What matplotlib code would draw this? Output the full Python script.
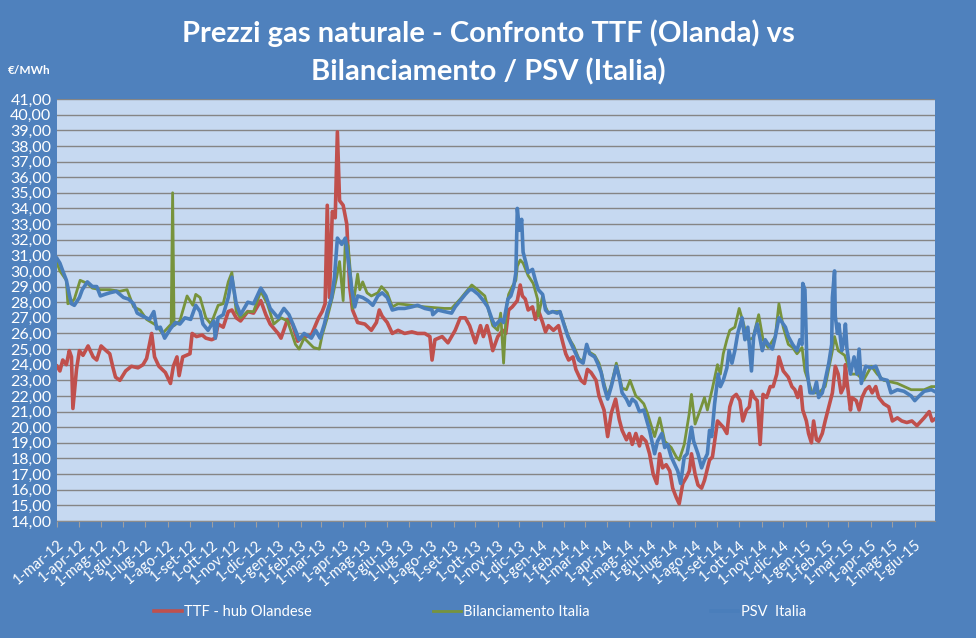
import matplotlib
matplotlib.use("Agg")
import matplotlib.pyplot as plt
import pandas as pd

plt.rcParams['font.family'] = ['Lato', 'DejaVu Sans']

# TTF - hub Olandese (EUR/MWh)
ttf = [("2012-03-01",23.9),("2012-03-05",23.6),("2012-03-09",24.3),("2012-03-14",24.0),("2012-03-18",24.9),("2012-03-21",24.5),("2012-03-23",21.2),("2012-03-28",23.7),("2012-04-01",24.9),("2012-04-06",24.6),("2012-04-13",25.2),("2012-04-20",24.5),("2012-04-25",24.3),("2012-05-01",25.2),("2012-05-08",24.9),("2012-05-13",24.7),("2012-05-17",23.9),("2012-05-21",23.2),("2012-05-27",23.0),("2012-06-04",23.6),("2012-06-12",23.9),("2012-06-21",23.8),("2012-06-28",24.0),("2012-07-03",24.4),("2012-07-10",26.0),("2012-07-14",24.5),("2012-07-20",23.9),("2012-07-29",23.5),("2012-08-05",22.8),("2012-08-09",23.9),("2012-08-14",24.5),("2012-08-17",23.3),("2012-08-22",24.5),("2012-09-01",24.7),("2012-09-04",26.0),("2012-09-10",25.8),("2012-09-18",25.9),("2012-09-23",25.7),("2012-10-01",25.6),("2012-10-06",25.7),("2012-10-10",26.6),("2012-10-17",26.4),("2012-10-24",27.4),("2012-10-29",27.5),("2012-11-04",27.0),("2012-11-10",26.8),("2012-11-20",27.4),("2012-11-28",27.3),("2012-12-08",28.1),("2012-12-15",27.2),("2012-12-21",26.6),("2013-01-01",26.0),("2013-01-05",25.7),("2013-01-14",26.9),("2013-01-21",26.6),("2013-01-28",25.5),("2013-02-02",25.7),("2013-02-16",25.9),("2013-02-26",27.0),("2013-03-03",27.4),("2013-03-07",27.9),("2013-03-10",34.2),("2013-03-13",28.3),("2013-03-17",33.8),("2013-03-21",33.4),("2013-03-24",38.9),("2013-03-27",34.5),("2013-04-01",34.2),("2013-04-06",33.0),("2013-04-10",29.0),("2013-04-14",27.5),("2013-04-21",26.7),("2013-05-01",26.6),("2013-05-10",26.2),("2013-05-17",26.7),("2013-05-21",27.5),("2013-05-25",27.1),("2013-06-01",26.7),("2013-06-08",26.0),("2013-06-16",26.2),("2013-06-25",26.0),("2013-07-05",26.1),("2013-07-13",26.0),("2013-07-23",26.0),("2013-07-30",25.8),("2013-08-02",24.3),("2013-08-06",25.6),("2013-08-16",25.8),("2013-08-24",25.4),("2013-09-03",26.2),("2013-09-10",27.0),("2013-09-17",27.0),("2013-09-23",26.5),("2013-10-01",25.4),("2013-10-08",26.5),("2013-10-12",25.8),("2013-10-17",26.5),("2013-10-21",25.8),("2013-10-25",24.9),("2013-11-01",25.8),("2013-11-08",26.2),("2013-11-12",26.0),("2013-11-16",27.5),("2013-11-21",27.7),("2013-11-28",28.1),("2013-12-02",29.1),("2013-12-05",28.4),("2013-12-09",28.2),("2013-12-13",27.5),("2013-12-19",27.7),("2013-12-23",26.9),("2013-12-27",27.5),("2014-01-02",26.7),("2014-01-06",26.1),("2014-01-10",26.5),("2014-01-17",26.2),("2014-01-24",26.5),("2014-01-30",25.4),("2014-02-03",24.7),("2014-02-07",24.3),("2014-02-13",24.5),("2014-02-17",23.7),("2014-02-24",23.0),("2014-03-01",22.8),("2014-03-05",23.7),("2014-03-10",23.5),("2014-03-17",23.0),("2014-03-21",22.0),("2014-03-28",21.1),("2014-04-02",19.4),("2014-04-07",20.9),("2014-04-13",21.8),("2014-04-18",20.5),("2014-04-22",19.8),("2014-04-28",19.2),("2014-05-02",19.6),("2014-05-06",18.9),("2014-05-11",19.6),("2014-05-16",18.8),("2014-05-19",19.4),("2014-05-25",19.1),("2014-05-30",18.3),("2014-06-04",17.0),("2014-06-09",16.4),("2014-06-13",18.3),("2014-06-17",17.4),("2014-06-22",17.6),("2014-06-27",17.2),("2014-07-01",16.1),("2014-07-06",15.5),("2014-07-10",15.1),("2014-07-15",16.4),("2014-07-20",16.8),("2014-07-24",17.2),("2014-07-27",18.3),("2014-08-01",17.0),("2014-08-05",16.3),("2014-08-10",16.1),("2014-08-14",16.6),("2014-08-21",17.9),("2014-08-25",18.1),("2014-09-01",20.4),("2014-09-05",20.2),("2014-09-09",20.0),("2014-09-14",19.6),("2014-09-18",21.3),("2014-09-22",21.9),("2014-09-27",22.1),("2014-10-02",21.7),("2014-10-06",20.4),("2014-10-11",21.1),("2014-10-15",21.3),("2014-10-18",22.3),("2014-10-22",21.9),("2014-10-26",21.7),("2014-10-30",18.9),("2014-11-03",22.1),("2014-11-08",21.9),("2014-11-13",22.6),("2014-11-17",22.6),("2014-11-22",23.4),("2014-11-25",24.5),("2014-12-01",23.6),("2014-12-08",23.2),("2014-12-13",22.6),("2014-12-17",22.4),("2014-12-21",21.9),("2014-12-25",22.6),("2014-12-28",21.1),("2015-01-02",20.4),("2015-01-05",19.6),("2015-01-09",19.0),("2015-01-12",20.4),("2015-01-16",19.2),("2015-01-19",19.1),("2015-01-24",19.6),("2015-01-28",20.4),("2015-02-02",21.3),("2015-02-07",22.2),("2015-02-11",23.9),("2015-02-15",23.4),("2015-02-19",22.2),("2015-02-23",22.6),("2015-02-25",24.0),("2015-02-27",23.0),("2015-03-04",21.1),("2015-03-06",21.9),("2015-03-12",21.7),("2015-03-16",21.1),("2015-03-20",21.9),("2015-03-25",22.4),("2015-03-30",22.6),("2015-04-03",22.2),("2015-04-08",22.6),("2015-04-12",21.9),("2015-04-19",21.5),("2015-04-26",21.3),("2015-05-01",20.4),("2015-05-08",20.6),("2015-05-14",20.4),("2015-05-21",20.3),("2015-05-28",20.4),("2015-06-04",20.1),("2015-06-10",20.4),("2015-06-14",20.6),("2015-06-21",21.0),("2015-06-25",20.4),("2015-06-28",20.5)]

# Bilanciamento Italia
bil = [("2012-03-01",30.5),("2012-03-05",30.0),("2012-03-14",29.4),("2012-03-16",27.9),("2012-03-21",28.0),("2012-03-25",28.2),("2012-04-02",29.4),("2012-04-12",29.2),("2012-04-19",28.9),("2012-04-30",28.8),("2012-05-13",28.8),("2012-05-27",28.7),("2012-06-06",28.8),("2012-06-15",27.7),("2012-06-24",27.5),("2012-07-03",26.9),("2012-07-10",26.7),("2012-07-17",26.5),("2012-07-25",26.0),("2012-08-02",26.4),("2012-08-06",26.6),("2012-08-08",35.0),("2012-08-10",26.5),("2012-08-18",26.8),("2012-08-28",28.4),("2012-09-05",27.8),("2012-09-09",28.5),("2012-09-15",28.3),("2012-09-23",27.0),("2012-09-30",26.6),("2012-10-10",27.8),("2012-10-17",27.9),("2012-10-24",29.3),("2012-10-29",29.9),("2012-11-04",27.4),("2012-11-10",27.0),("2012-11-20",27.4),("2012-11-28",27.4),("2012-12-08",28.7),("2012-12-17",27.9),("2012-12-26",26.6),("2013-01-05",27.0),("2013-01-14",26.8),("2013-01-25",25.3),("2013-01-30",25.0),("2013-02-06",25.7),("2013-02-19",25.1),("2013-02-27",25.0),("2013-03-03",25.9),("2013-03-10",27.0),("2013-03-17",28.3),("2013-03-23",29.6),("2013-03-27",30.6),("2013-04-01",28.1),("2013-04-04",32.0),("2013-04-08",31.6),("2013-04-13",28.8),("2013-04-14",27.6),("2013-04-21",29.8),("2013-04-24",28.8),("2013-04-28",29.3),("2013-05-04",28.6),("2013-05-10",28.4),("2013-05-19",28.6),("2013-05-24",29.0),("2013-06-01",28.6),("2013-06-08",27.7),("2013-06-16",27.9),("2013-07-05",27.8),("2013-07-23",27.7),("2013-08-19",27.6),("2013-08-29",27.6),("2013-09-10",28.2),("2013-09-17",28.6),("2013-09-26",29.1),("2013-10-04",28.8),("2013-10-14",28.4),("2013-10-18",27.7),("2013-10-25",26.5),("2013-11-01",26.2),("2013-11-05",27.3),("2013-11-09",24.1),("2013-11-13",27.7),("2013-11-16",28.5),("2013-11-21",29.0),("2013-11-26",29.4),("2013-11-28",30.3),("2013-12-02",30.7),("2013-12-06",30.5),("2013-12-13",29.7),("2013-12-20",29.2),("2013-12-26",28.2),("2013-12-27",27.1),("2014-01-02",28.4),("2014-01-06",27.7),("2014-01-10",27.3),("2014-01-16",27.4),("2014-01-26",27.4),("2014-02-01",26.6),("2014-02-06",25.9),("2014-02-10",25.5),("2014-02-14",25.2),("2014-02-21",24.4),("2014-02-27",24.2),("2014-03-04",25.2),("2014-03-08",24.8),("2014-03-15",24.6),("2014-03-21",24.1),("2014-03-24",23.6),("2014-03-28",22.8),("2014-04-02",22.0),("2014-04-07",22.7),("2014-04-14",24.1),("2014-04-18",23.3),("2014-04-22",22.5),("2014-04-28",22.4),("2014-05-03",23.0),("2014-05-11",22.0),("2014-05-16",21.8),("2014-05-22",21.5),("2014-05-27",20.9),("2014-06-06",19.4),("2014-06-13",20.6),("2014-06-20",19.1),("2014-06-29",18.7),("2014-07-06",18.1),("2014-07-10",17.9),("2014-07-17",18.9),("2014-07-24",20.9),("2014-07-27",22.1),("2014-08-01",20.2),("2014-08-08",21.1),("2014-08-14",21.9),("2014-08-18",21.1),("2014-08-25",22.5),("2014-09-01",24.0),("2014-09-05",23.4),("2014-09-09",24.7),("2014-09-14",25.6),("2014-09-18",26.2),("2014-09-25",26.4),("2014-10-01",27.6),("2014-10-06",26.8),("2014-10-13",25.6),("2014-10-20",25.7),("2014-10-28",27.2),("2014-11-03",25.6),("2014-11-10",25.1),("2014-11-20",25.8),("2014-11-25",27.9),("2014-12-01",26.4),("2014-12-08",25.3),("2014-12-14",25.1),("2014-12-20",24.7),("2014-12-27",25.1),("2014-12-31",23.6),("2015-01-10",22.2),("2015-01-19",22.2),("2015-01-28",22.6),("2015-02-07",24.9),("2015-02-10",25.8),("2015-02-15",24.9),("2015-02-24",24.6),("2015-03-05",23.4),("2015-03-13",23.4),("2015-03-22",23.0),("2015-04-02",23.9),("2015-04-10",23.4),("2015-04-19",23.0),("2015-05-08",22.8),("2015-05-27",22.4),("2015-06-14",22.4),("2015-06-24",22.6),("2015-06-28",22.6)]

# PSV Italia
psv = [("2012-03-01",30.8),("2012-03-05",30.5),("2012-03-09",30.0),("2012-03-14",29.4),("2012-03-18",28.5),("2012-03-21",27.9),("2012-03-25",27.8),("2012-04-01",28.3),("2012-04-05",28.8),("2012-04-12",29.3),("2012-04-19",29.0),("2012-04-25",29.0),("2012-04-30",28.4),("2012-05-06",28.5),("2012-05-13",28.6),("2012-05-22",28.7),("2012-06-01",28.3),("2012-06-08",28.2),("2012-06-15",27.9),("2012-06-20",27.3),("2012-06-28",27.1),("2012-07-07",26.9),("2012-07-13",27.4),("2012-07-17",26.3),("2012-07-22",26.4),("2012-07-28",25.7),("2012-08-05",26.3),("2012-08-12",26.7),("2012-08-18",26.6),("2012-08-25",27.0),("2012-09-02",26.9),("2012-09-09",27.8),("2012-09-15",27.4),("2012-09-19",26.6),("2012-09-26",26.2),("2012-10-04",26.8),("2012-10-06",25.7),("2012-10-10",27.0),("2012-10-17",27.2),("2012-10-24",28.3),("2012-10-29",29.6),("2012-11-04",27.9),("2012-11-10",27.2),("2012-11-20",28.0),("2012-11-28",27.9),("2012-12-08",28.9),("2012-12-15",28.4),("2012-12-21",27.6),("2013-01-01",27.0),("2013-01-09",27.6),("2013-01-16",27.2),("2013-01-25",26.2),("2013-01-30",25.6),("2013-02-06",26.0),("2013-02-16",25.7),("2013-02-22",26.2),("2013-02-28",25.7),("2013-03-06",26.6),("2013-03-10",27.4),("2013-03-16",28.3),("2013-03-20",29.6),("2013-03-24",32.1),("2013-03-30",31.7),("2013-04-04",32.1),("2013-04-08",30.7),("2013-04-13",28.8),("2013-04-17",27.7),("2013-04-21",28.4),("2013-04-28",28.3),("2013-05-05",28.1),("2013-05-12",27.8),("2013-05-19",28.4),("2013-05-25",28.6),("2013-06-01",28.3),("2013-06-08",27.5),("2013-06-16",27.6),("2013-06-25",27.6),("2013-07-05",27.7),("2013-07-13",27.8),("2013-07-23",27.6),("2013-08-02",27.5),("2013-08-03",27.2),("2013-08-10",27.5),("2013-08-19",27.4),("2013-08-29",27.3),("2013-09-03",27.7),("2013-09-10",28.1),("2013-09-17",28.5),("2013-09-23",28.8),("2013-09-27",28.8),("2013-10-05",28.5),("2013-10-12",28.1),("2013-10-18",27.7),("2013-10-24",26.9),("2013-10-28",26.5),("2013-11-01",26.7),("2013-11-05",26.9),("2013-11-09",26.7),("2013-11-15",28.2),("2013-11-19",28.4),("2013-11-23",29.0),("2013-11-26",29.9),("2013-11-28",34.0),("2013-12-01",32.6),("2013-12-04",33.3),("2013-12-06",31.2),("2013-12-10",30.5),("2013-12-13",29.9),("2013-12-19",30.1),("2013-12-23",29.4),("2013-12-27",28.8),("2014-01-02",28.5),("2014-01-06",27.5),("2014-01-10",27.3),("2014-01-16",27.4),("2014-01-22",27.3),("2014-01-26",27.4),("2014-02-01",26.5),("2014-02-06",25.8),("2014-02-10",25.4),("2014-02-14",25.0),("2014-02-21",24.3),("2014-02-27",24.1),("2014-03-04",25.3),("2014-03-08",24.7),("2014-03-15",24.5),("2014-03-19",24.1),("2014-03-24",23.5),("2014-03-28",22.6),("2014-04-02",21.8),("2014-04-07",22.6),("2014-04-14",23.9),("2014-04-18",23.2),("2014-04-22",22.2),("2014-04-28",21.8),("2014-05-02",21.4),("2014-05-06",21.8),("2014-05-11",21.6),("2014-05-16",21.0),("2014-05-22",21.1),("2014-05-30",19.8),("2014-06-06",18.3),("2014-06-10",19.1),("2014-06-16",19.6),("2014-06-20",18.7),("2014-06-24",18.9),("2014-06-29",18.1),("2014-07-04",17.6),("2014-07-08",17.2),("2014-07-12",16.4),("2014-07-17",18.1),("2014-07-21",18.3),("2014-07-27",20.0),("2014-07-30",19.1),("2014-08-05",18.3),("2014-08-10",17.4),("2014-08-14",17.9),("2014-08-18",18.3),("2014-08-21",19.8),("2014-08-24",19.4),("2014-08-28",21.5),("2014-09-02",23.4),("2014-09-05",22.6),("2014-09-09",23.0),("2014-09-14",23.8),("2014-09-17",24.9),("2014-09-21",24.1),("2014-09-25",24.9),("2014-09-29",26.0),("2014-10-05",27.0),("2014-10-09",25.6),("2014-10-13",26.4),("2014-10-18",23.6),("2014-10-21",25.8),("2014-10-26",26.6),("2014-11-02",24.9),("2014-11-06",25.6),("2014-11-10",25.3),("2014-11-16",25.0),("2014-11-20",25.8),("2014-11-25",27.0),("2014-12-01",26.6),("2014-12-04",26.4),("2014-12-08",25.8),("2014-12-14",25.3),("2014-12-20",24.9),("2014-12-24",25.6),("2014-12-27",25.3),("2014-12-28",29.2),("2014-12-31",28.8),("2015-01-03",23.6),("2015-01-07",22.2),("2015-01-12",22.2),("2015-01-16",22.9),("2015-01-19",21.9),("2015-01-24",22.2),("2015-01-28",23.0),("2015-02-02",24.1),("2015-02-06",25.3),("2015-02-07",28.3),("2015-02-10",30.0),("2015-02-11",27.1),("2015-02-14",26.0),("2015-02-16",26.6),("2015-02-20",24.9),("2015-02-23",25.6),("2015-02-25",26.6),("2015-02-27",25.1),("2015-03-04",23.4),("2015-03-09",24.5),("2015-03-13",23.4),("2015-03-16",25.0),("2015-03-19",22.8),("2015-03-25",23.9),("2015-04-02",23.8),("2015-04-08",23.9),("2015-04-15",23.1),("2015-04-24",23.0),("2015-04-29",22.2),("2015-05-08",22.4),("2015-05-17",22.3),("2015-05-27",22.0),("2015-06-01",21.7),("2015-06-05",21.9),("2015-06-14",22.3),("2015-06-24",22.4),("2015-06-28",22.3)]

mesi = ["gen", "feb", "mar", "apr", "mag", "giu", "lug", "ago", "set", "ott", "nov", "dic"]
series_names = ["TTF - hub Olandese", "Bilanciamento Italia", "PSV  Italia"]

bg = '#4F81BD'
fig = plt.figure(figsize=(9.76, 6.38), dpi=100, facecolor=bg)
ax = fig.add_axes([0.0584, 0.1834, 0.8996, 0.6614])
ax.set_facecolor('#C6D9F1')

def to_xy(data):
    d = pd.to_datetime([p[0] for p in data])
    v = [p[1] for p in data]
    return d, v

for data, name, col, lw in [(ttf, series_names[0], '#C0504D', 2.6),
                            (bil, series_names[1], '#77933C', 2.0),
                            (psv, series_names[2], '#4A7EBB', 2.6)]:
    d, v = to_xy(data)
    ax.plot(d, v, color=col, lw=lw, label=name, solid_joinstyle='round')

ax.set_ylim(14, 41)
ax.set_yticks(range(14, 42))
ax.set_yticklabels([f"{y},00" for y in range(14, 42)], color='white', fontsize=11.5)
ax.yaxis.grid(True, color='#858585', lw=1)
ax.set_axisbelow(True)

ax.set_xlim(pd.Timestamp("2012-03-01"), pd.Timestamp("2015-06-29"))
months = pd.date_range("2012-03-01", "2015-06-01", freq='MS')
ax.set_xticks(months)
ax.set_xticklabels([f"1-{mesi[m.month-1]}-{m.year % 100}" for m in months],
                   rotation=40, ha='right', va='top', rotation_mode='anchor',
                   color='white', fontsize=10.5)
ax.tick_params(axis='y', length=0, pad=4)
ax.tick_params(axis='x', length=4, color='#A0A0A0', pad=8)

for s in ['top', 'right', 'left']:
    ax.spines[s].set_visible(False)
ax.spines['bottom'].set_color('#8C8C8C')

fig.text(0.5, 0.948, "Prezzi gas naturale - Confronto TTF (Olanda) vs", ha='center', va='center',
         color='white', fontsize=21, fontweight='bold')
fig.text(0.5, 0.888, "Bilanciamento / PSV (Italia)", ha='center', va='center',
         color='white', fontsize=21, fontweight='bold')
fig.text(0.008, 0.890, "€/MWh", ha='left', va='center', color='white', fontsize=8.5, fontweight='bold')

leg = fig.legend(loc='center', bbox_to_anchor=(0.492, 0.04), ncol=3, frameon=False,
                 fontsize=10.5, handlelength=1.9, columnspacing=8.3, handletextpad=0.15)
for t in leg.get_texts():
    t.set_color('white')

fig.savefig("out.png", dpi=100, facecolor=bg)
